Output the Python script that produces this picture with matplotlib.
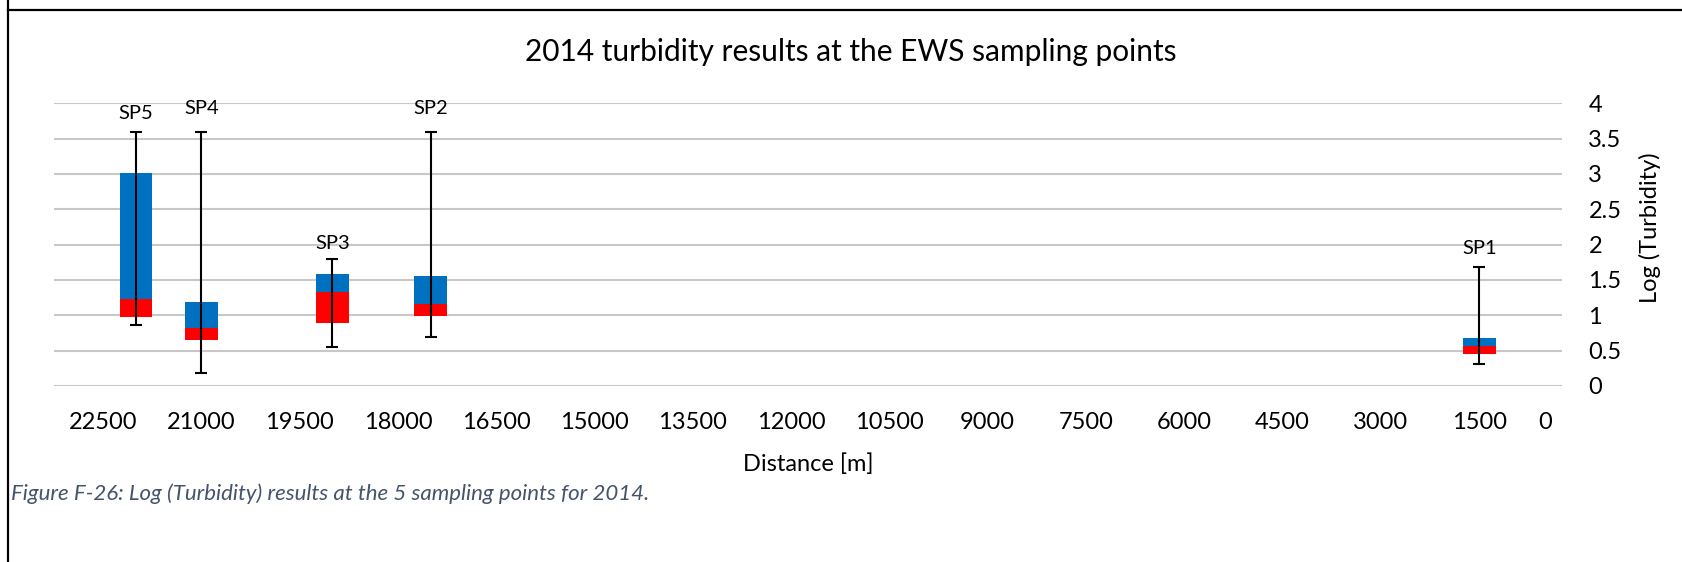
import numpy as np
import matplotlib
matplotlib.use("Agg")
import matplotlib.pyplot as plt
from matplotlib.lines import Line2D

# Titik sampling dan statistik Log (Turbidity)
stations = ["SP5", "SP4", "SP3", "SP2", "SP1"]
distance = [22000, 21000, 19000, 17500, 1500]
log_min = [0.86, 0.18, 0.556, 0.693, 0.307]
log_q1 = [0.97, 0.655, 0.896, 0.995, 0.453]
log_median = [1.227, 0.816, 1.33, 1.16, 0.57]
log_q3 = [3.01, 1.19, 1.585, 1.56, 0.675]
log_max = [3.6, 3.6, 1.79, 3.6, 1.68]

x_ticks = [22500, 21000, 19500, 18000, 16500, 15000, 13500, 12000,
           10500, 9000, 7500, 6000, 4500, 3000, 1500]
y_ticks = [0, 0.5, 1, 1.5, 2, 2.5, 3, 3.5, 4]

# jarak baseline label SP di atas ujung whisker (points)
label_offset = [9, 12.7, 7.2, 12.7, 9.6]

plt.rcParams['font.family'] = ['Lato', 'DejaVu Sans']

W, H = 1683, 562
fig = plt.figure(figsize=(W / 100, H / 100), dpi=100)
ax = fig.add_axes([54 / W, 1 - 386 / H, (1562 - 54) / W, (386 - 103.3) / H])

q1 = np.array(log_q1)
med = np.array(log_median)
q3 = np.array(log_q3)

# bagian merah (q1 - median) dan biru (median - q3)
ax.bar(distance, med - q1, bottom=q1, width=500, color='#FF0000', zorder=3)
ax.bar(distance, q3 - med, bottom=med, width=500, color='#0070C0', zorder=3)

# whisker min - max
err = [med - np.array(log_min), np.array(log_max) - med]
ax.errorbar(distance, med, yerr=err, fmt='none', ecolor='black',
            elinewidth=1.5, capsize=4.3, capthick=1.5, zorder=4)

for name, xv, top, off in zip(stations, distance, log_max, label_offset):
    ax.annotate(name, xy=(xv, top), xytext=(0, off), textcoords='offset points',
                ha='center', va='baseline', fontsize=14.5)

ax.set_xlim(23250, 236)
ax.set_ylim(0, 4)
ax.set_xticks(x_ticks)
ax.set_xticklabels([str(t) for t in x_ticks])
ax.set_yticks(y_ticks)
ax.set_yticklabels([f"{t:g}" for t in y_ticks])
ax.yaxis.tick_right()
ax.tick_params(axis='x', length=0, pad=19, labelsize=17)
ax.tick_params(axis='y', length=0, pad=19, labelsize=17)

# label "0" di ujung kanan sumbu
ax.annotate("0", xy=(0.989, 0), xycoords='axes fraction', xytext=(0, -19),
            textcoords='offset points', ha='center', va='top', fontsize=17)

ax.grid(axis='y', color='#C8C8C8', linewidth=1.5, zorder=0)
ax.axhline(0, color='#D9D9D9', linewidth=1.5, zorder=1)
for s in ax.spines.values():
    s.set_visible(False)

fig.text(851 / W, 1 - 61 / H, "2014 turbidity results at the EWS sampling points",
         ha='center', va='baseline', fontsize=21.5)
fig.text(808 / W, 1 - 470.5 / H, "Distance [m]", ha='center', va='baseline', fontsize=17)
fig.text(1650 / W, 1 - 228 / H, "Log (Turbidity)", ha='center', va='center',
         rotation=90, fontsize=17)
fig.text(11 / W, 1 - 500 / H,
         "Figure F-26: Log (Turbidity) results at the 5 sampling points for 2014.",
         ha='left', va='baseline', fontsize=16, style='italic', color='#44546A')

# garis bingkai kiri dan atas
fig.add_artist(Line2D([8 / W, 8 / W], [0, 1], color='black', linewidth=1.6,
                      transform=fig.transFigure))
fig.add_artist(Line2D([8 / W, 1], [1 - 10 / H, 1 - 10 / H], color='black',
                      linewidth=1.6, transform=fig.transFigure))

fig.savefig("out.png", dpi=100)
